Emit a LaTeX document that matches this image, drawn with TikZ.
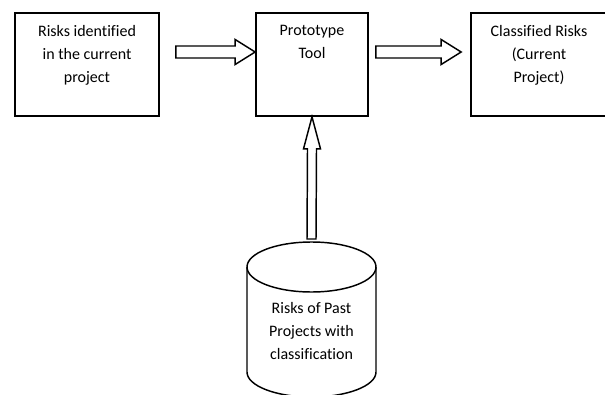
\documentclass[tikz,border=0pt]{standalone}
\usepackage{fontspec}
\setmainfont{Carlito}[Ligatures=NoCommon]
\usetikzlibrary{positioning, calc}
\tikzset{
    box/.style={draw, line width=1.3pt, inner sep=0pt},
    txt/.style={align=center, inner sep=0pt, font=\fontsize{12}{17.25}\selectfont},
    dbline/.style={line width=1.1pt},
    harrow/.style={line width=1.1pt, to path={
        ($(\tikztostart)+(0,-6)$) -- ($(\tikztotarget)+(-20,-6)$) -- ($(\tikztotarget)+(-20,-12.5)$)
        -- (\tikztotarget) -- ($(\tikztotarget)+(-20,12.5)$) -- ($(\tikztotarget)+(-20,6)$)
        -- ($(\tikztostart)+(0,6)$) -- cycle}},
    varrow/.style={line width=1.1pt, to path={
        ($(\tikztostart)+(-4.5,0)$) -- ($(\tikztotarget)+(-4.5,32)$) -- ($(\tikztotarget)+(-8.5,32)$)
        -- (\tikztotarget) -- ($(\tikztotarget)+(8.5,32)$) -- ($(\tikztotarget)+(4.5,32)$)
        -- ($(\tikztostart)+(4.5,0)$) -- cycle}},
}
\begin{document}
\begin{tikzpicture}[x=0.75pt, y=-0.75pt]
    \clip (0,0) rectangle (605,395);

    % boxes
    \node[box, minimum width=108pt, minimum height=77.25pt] (cur) at (87,64.5) {};
    \node[box, minimum width=84pt, minimum height=77.25pt] (proto) at (312,64.5) {};
    \node[box, minimum width=102pt, minimum height=77.25pt] (cls) at (539,64.5) {};
    \node[txt, below=9.5pt of cur.north] (curtxt) {Risks identified\\in the current\\project};
    \node[txt, below=9.5pt of proto.north] (prototxt) {Prototype\\Tool};
    \node[txt, below=9.5pt of cls.north] (clstxt) {Classified Risks\\(Current\\Project)};

    % database
    \coordinate (dbtop) at (311.5,267);
    \draw[dbline] (dbtop) ellipse[x radius=64.5, y radius=25];
    \draw[dbline] ($(dbtop)+(-64.5,0)$) -- ++(0,105)
        arc[start angle=180, end angle=0, x radius=64.5, y radius=25] -- ($(dbtop)+(64.5,0)$);
    \node[txt, anchor=north] (past) at (311.5,302) {Risks of Past\\Projects with\\classification};

    % arrows
    \coordinate (a1s) at ($(cur.east)+(16,-12.5)$);
    \coordinate (a1t) at (proto.west |- a1s);
    \coordinate (a2s) at ($(proto.east)+(7,-12.5)$);
    \coordinate (a2t) at ($(cls.west |- a2s)+(-9,0)$);
    \coordinate (a3s) at ($(dbtop)+(0,-28)$);
    \coordinate (a3t) at (proto.south);
    \draw[harrow] (a1s) to (a1t);
    \draw[harrow] (a2s) to (a2t);
    \draw[varrow] (a3s) to (a3t);
\end{tikzpicture}
\end{document}
